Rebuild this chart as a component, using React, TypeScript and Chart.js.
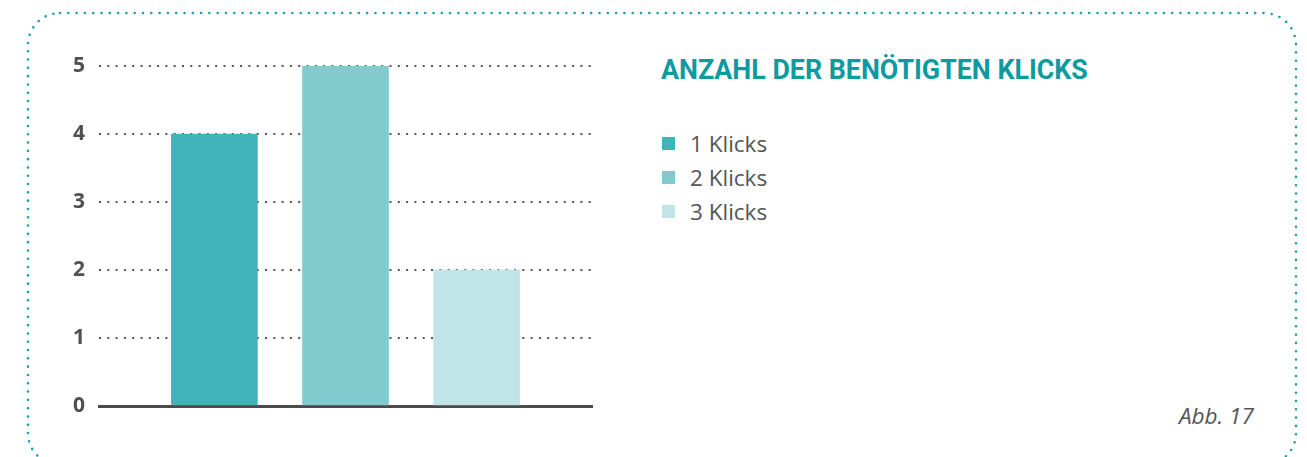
import React, { useEffect, useRef } from "react";
import { Chart, registerables } from "chart.js";

Chart.register(...registerables);

const title = "ANZAHL DER BENÖTIGTEN KLICKS";
const categories = ["1 Klicks", "2 Klicks", "3 Klicks"];
const values = [4, 5, 2];
const barColors = ["#41b3ba", "#81cbcf", "#bfe5e8"];
const yTicks = [0, 1, 2, 3, 4, 5];
const figureLabel = "Abb. 17";

export default function App() {
  const canvasRef = useRef<HTMLCanvasElement | null>(null);

  useEffect(() => {
    const canvas = canvasRef.current;
    if (!canvas) return;
    const chart = new Chart(canvas, {
      type: "bar",
      data: {
        datasets: [
          {
            label: title,
            data: values.map((v, i) => ({ x: i, y: v })),
            backgroundColor: barColors,
            borderWidth: 0,
            barThickness: 86,
          },
        ],
      },
      options: {
        animation: false,
        responsive: false,
        maintainAspectRatio: false,
        layout: { padding: { left: 39, right: 28, top: 66, bottom: 51 } },
        plugins: {
          legend: { display: false },
          tooltip: { enabled: false },
          title: { display: false },
        },
        scales: {
          x: {
            type: "linear",
            offset: false,
            min: -0.88,
            max: 2.88,
            ticks: { display: false },
            grid: { display: false, drawTicks: false, offset: false },
            border: { display: true, color: "#4a4a4a", width: 3 },
            afterFit: (scale: any) => {
              scale.height = 0;
            },
          },
          y: {
            min: yTicks[0],
            max: yTicks[yTicks.length - 1],
            afterBuildTicks: (scale: any) => {
              scale.ticks = yTicks.map((v) => ({ value: v }));
            },
            afterFit: (scale: any) => {
              scale.width = 60;
            },
            ticks: {
              padding: 14,
              color: "#505050",
              font: { family: "'Open Sans', sans-serif", size: 21, weight: "bold" },
            },
            grid: {
              drawTicks: false,
              lineWidth: 2,
              color: (ctx: any) =>
                ctx.tick && ctx.tick.value === 0 ? "rgba(0,0,0,0)" : "#555555",
              borderDash: [2, 6.3],
            } as any,
            border: { display: false, dash: [2, 6.3] },
          },
        },
      },
    });
    return () => chart.destroy();
  }, []);

  return (
    <div
      style={{
        position: "absolute",
        left: 0,
        top: 0,
        width: 1307,
        height: 457,
        overflow: "hidden",
        background: "#ffffff",
      }}
    >
      <svg
        width={1307}
        height={457}
        style={{ position: "absolute", left: 0, top: 0 }}
      >
        <rect
          x={28}
          y={13}
          width={1268}
          height={452}
          rx={32}
          ry={32}
          fill="none"
          stroke="#17a0a8"
          strokeWidth={2.6}
          strokeDasharray="0 8.3"
          strokeLinecap="round"
        />
      </svg>
      <canvas
        ref={canvasRef}
        width={620}
        height={457}
        style={{ position: "absolute", left: 0, top: 0, width: 620, height: 457 }}
      />
      <div
        style={{
          position: "absolute",
          left: 661,
          top: 52,
          fontFamily: "Roboto, sans-serif",
          fontWeight: 700,
          fontSize: 26.8,
          color: "#0d9aa1",
          whiteSpace: "nowrap",
          lineHeight: "36px",
        }}
      >
        {title}
      </div>
      <div style={{ position: "absolute", left: 662, top: 126 }}>
        {categories.map((c, i) => (
          <div
            key={c}
            style={{
              display: "flex",
              alignItems: "center",
              height: 34.3,
              fontFamily: "'Open Sans', sans-serif",
              fontSize: 22.5,
              color: "#555555",
            }}
          >
            <span
              style={{
                display: "inline-block",
                width: 13,
                height: 13,
                background: barColors[i],
                marginRight: 15,
              }}
            />
            <span>{c}</span>
          </div>
        ))}
      </div>
      <div
        style={{
          position: "absolute",
          left: 1179,
          top: 401,
          fontFamily: "'Open Sans', sans-serif",
          fontStyle: "italic",
          fontSize: 22.5,
          color: "#555555",
          lineHeight: "30px",
        }}
      >
        {figureLabel}
      </div>
    </div>
  );
}
